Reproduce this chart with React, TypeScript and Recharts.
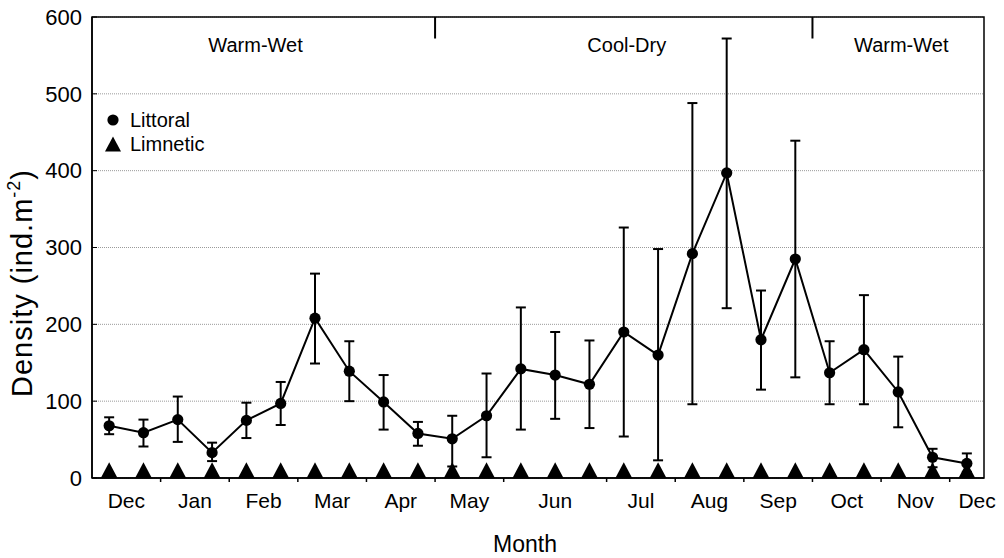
import React from 'react';
import {
  ComposedChart,
  Line,
  XAxis,
  YAxis,
  CartesianGrid,
  ErrorBar,
  ReferenceArea,
  ReferenceLine,
  Legend,
} from 'recharts';

const FONT = '"Liberation Sans", Arial, Helvetica, sans-serif';

// biweekly samples, Dec to Dec
const littoral = [68, 59, 76, 33, 75, 97, 208, 139, 99, 58, 51, 81, 142, 134, 122, 190, 160, 292, 397, 180, 285, 137, 167, 112, 27, 19];
const littoralHigh = [79, 76, 106, 46, 98, 125, 266, 178, 134, 73, 81, 136, 222, 190, 179, 326, 298, 488, 572, 244, 439, 178, 238, 158, 38, 32];
const littoralLow = [57, 41, 47, 22, 52, 69, 149, 100, 63, 42, 15, 27, 63, 77, 65, 54, 23, 96, 221, 115, 131, 96, 96, 66, 14, 8];
const limnetic = [10, 10, 10, 10, 10, 10, 10, 10, 10, 10, 10, 10, 10, 10, 10, 10, 10, 10, 10, 10, 10, 10, 10, 10, 10, 10];

const monthLabels = ['Dec', 'Jan', 'Feb', 'Mar', 'Apr', 'May', 'Jun', 'Jul', 'Aug', 'Sep', 'Oct', 'Nov', 'Dec'];
const monthCenters = [0.5, 2.5, 4.5, 6.5, 8.5, 10.5, 13, 15.5, 17.5, 19.5, 21.5, 23.5, 25.3];
const monthBreaks = [1.5, 3.5, 5.5, 7.5, 9.5, 11.5, 14.5, 16.5, 18.5, 20.5, 22.5, 24.5];

const seasons = ['Warm-Wet', 'Cool-Dry', 'Warm-Wet'];
const seasonBreaks = [-0.5, 9.5, 20.5, 25.5];

const yTicks = [0, 100, 200, 300, 400, 500, 600];

const data = littoral.map((v, i) => ({
  idx: i,
  littoral: v,
  err: [v - littoralLow[i], littoralHigh[i] - v],
  limnetic: limnetic[i],
}));

const breakSet = new Set(monthBreaks);
const labelAt = new Map(monthCenters.map((c, i) => [c, monthLabels[i]]));
const allTicks = [...monthBreaks, ...monthCenters].sort((a, b) => a - b);

const MonthTick = (props: any) => {
  const { x, y, payload } = props;
  const v = payload.value;
  if (breakSet.has(v)) {
    return <line x1={x} y1={y} x2={x} y2={y + 4} stroke="#000" strokeWidth={1.5} />;
  }
  return (
    <text x={x} y={y + 30} textAnchor="middle" fontSize={21} fill="#000" fontFamily={FONT}>
      {labelAt.get(v)}
    </text>
  );
};

const Triangle = (props: any) => {
  const { cx, cy, index } = props;
  if (cx == null || cy == null) return <g key={`t-${index}`} />;
  return (
    <path
      key={`t-${index}`}
      d={`M${cx},${cy - 8} L${cx + 8.5},${cy + 8} L${cx - 8.5},${cy + 8} Z`}
      fill="#000"
    />
  );
};

const Circle = (props: any) => {
  const { cx, cy, index } = props;
  if (cx == null || cy == null) return <g key={`c-${index}`} />;
  return <circle key={`c-${index}`} cx={cx} cy={cy} r={5.6} fill="#000" />;
};

const YLabel = () => (
  <text
    transform="translate(32, 283) rotate(-90)"
    textAnchor="middle"
    fontSize={29}
    letterSpacing={1}
    fill="#000"
    fontFamily={FONT}
  >
    Density (ind.m<tspan dy={-12} fontSize={18}>-2</tspan>
    <tspan dy={12}>)</tspan>
  </text>
);

const XLabel = () => (
  <text x={525} y={552} textAnchor="middle" fontSize={23} fill="#000" fontFamily={FONT}>
    Month
  </text>
);

const LegendBox = () => (
  <div style={{ fontFamily: FONT, fontSize: 20, color: '#000' }}>
    <div style={{ display: 'flex', alignItems: 'center', height: 24 }}>
      <svg width={16} height={16}>
        <circle cx={8} cy={8} r={5.6} fill="#000" />
      </svg>
      <span style={{ marginLeft: 9 }}>Littoral</span>
    </div>
    <div style={{ display: 'flex', alignItems: 'center', height: 24 }}>
      <svg width={16} height={16}>
        <path d="M8,0.5 L16,15.5 L0,15.5 Z" fill="#000" />
      </svg>
      <span style={{ marginLeft: 9 }}>Limnetic</span>
    </div>
  </div>
);

export default function App() {
  return (
    <div style={{ position: 'absolute', left: 0, top: 0, background: '#fff' }}>
      <ComposedChart
        width={1004}
        height={558}
        data={data}
        margin={{ top: 17, right: 20, bottom: 0, left: 0 }}
        style={{ fontFamily: FONT }}
      >
        <CartesianGrid
          horizontal
          vertical={false}
          stroke="#9a9a9a"
          strokeDasharray="1 1"
          strokeWidth={1}
        />
        <XAxis
          dataKey="idx"
          type="number"
          domain={[-0.5, 25.5]}
          ticks={allTicks}
          interval={0}
          tickSize={0}
          tickMargin={0}
          tickLine={false}
          tick={<MonthTick />}
          height={80}
          axisLine={{ stroke: '#000', strokeWidth: 1.5 }}
          label={XLabel}
        />
        <YAxis
          domain={[0, 600]}
          ticks={yTicks}
          width={92}
          tickSize={-5}
          tickMargin={15}
          tick={{ fontSize: 22, fill: '#000' }}
          tickLine={{ stroke: '#000', strokeWidth: 1 }}
          axisLine={{ stroke: '#000', strokeWidth: 1.5 }}
          label={YLabel}
        />
        <ReferenceArea
          x1={seasonBreaks[0]}
          x2={seasonBreaks[3]}
          y1={0}
          y2={600}
          stroke="#000"
          strokeWidth={1.5}
          fill="none"
          fillOpacity={0}
        />
        {seasons.map((s, i) => (
          <ReferenceArea
            key={`season-${i}`}
            x1={seasonBreaks[i]}
            x2={seasonBreaks[i + 1]}
            y1={540}
            y2={600}
            fill="none"
            fillOpacity={0}
            stroke="none"
            label={{
              value: s,
              position: 'insideTop',
              offset: 21,
              fontSize: 20,
              fill: '#000',
              dx: i === 0 ? -8 : 3,
            }}
          />
        ))}
        {seasonBreaks.slice(1, 3).map((b) => (
          <ReferenceLine
            key={`sb-${b}`}
            segment={[{ x: b, y: 600 }, { x: b, y: 572 }]}
            stroke="#000"
            strokeWidth={2}
          />
        ))}
        <Line
          dataKey="limnetic"
          stroke="none"
          dot={Triangle}
          activeDot={false}
          isAnimationActive={false}
        />
        <Line
          dataKey="littoral"
          stroke="#000"
          strokeWidth={2}
          dot={Circle}
          activeDot={false}
          isAnimationActive={false}
        >
          <ErrorBar dataKey="err" direction="y" width={5} stroke="#000" strokeWidth={2} />
        </Line>
        <Legend
          layout="vertical"
          align="center"
          verticalAlign="middle"
          content={<LegendBox />}
          wrapperStyle={{ left: 105, top: 108, width: 'auto' }}
        />
      </ComposedChart>
    </div>
  );
}
